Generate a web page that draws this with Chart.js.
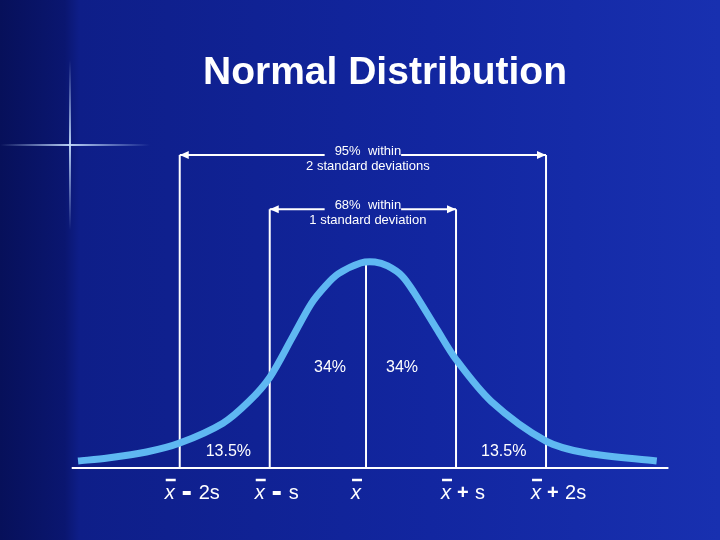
<!DOCTYPE html>
<html><head><meta charset="utf-8">
<script src="https://cdn.jsdelivr.net/npm/chart.js@4/dist/chart.umd.min.js"></script>
<style>
html,body{margin:0;padding:0;width:720px;height:540px;overflow:hidden;}
body{background:linear-gradient(90deg,#07105a 0%,#0a1670 9%,#0e1e88 11%,#1226a0 60%,#1830b0 100%);position:relative;}
#wrap{position:absolute;left:0;top:0;width:720px;height:540px;}
.fl{position:absolute;}
</style></head><body>
<div class="fl" style="left:0;top:144px;width:150px;height:2px;background:linear-gradient(90deg,rgba(120,160,255,0),rgba(200,225,255,0.9) 47%,rgba(120,160,255,0))"></div>
<div class="fl" style="left:69px;top:60px;width:2px;height:170px;background:linear-gradient(180deg,rgba(120,160,255,0),rgba(200,225,255,0.9) 50%,rgba(120,160,255,0))"></div>
<div id="wrap"><canvas id="c" width="720" height="540"></canvas></div>
<script>
// x in units of s from the mean; y relative height (peak = 1)
const curveX = [-3.2,-2.87,-2.44,-2.07,-1.59,-1.3,-1.07,-0.82,-0.61,-0.45,-0.31,-0.06,0.1,0.24,0.4,0.53,0.79,1.0,1.39,2.0,2.45,3.23];
const curveY = [0.0,0.015,0.045,0.09,0.19,0.30,0.42,0.62,0.79,0.88,0.94,0.995,1.0,0.98,0.93,0.85,0.66,0.51,0.30,0.10,0.04,0.0];
const sdLines = [-2.07,-1.07,0,1,2];
const sdLineTops = [1.538,1.265,1.0,1.265,1.538];
const pctLabels = ['13.5%','34%','34%','13.5%'];
const pctX = [-1.53,-0.4,0.4,1.53];
const pctY = [0.045,0.47,0.47,0.045];
const axisLabels = ['2s','s','','s','2s'];
const axisSigns = ['-','-','','+','+'];

const curve = curveX.map((x,i)=>({x, y:curveY[i]}));
const vlines = sdLines.map((x,i)=>({label:'v'+i,data:[{x,y:-0.035},{x,y:sdLineTops[i]}],borderColor:'#ffffff',borderWidth:2,pointRadius:0,fill:false}));

const annot = {
 id:'annot',
 afterDatasetsDraw(ch){
  const c=ch.ctx, xs=ch.scales.x, ys=ch.scales.y;
  c.save();
  c.fillStyle='#fff'; c.strokeStyle='#fff';
  c.lineWidth=2; c.beginPath(); c.moveTo(xs.getPixelForValue(-3.27),ys.getPixelForValue(-0.035)); c.lineTo(xs.getPixelForValue(3.36),ys.getPixelForValue(-0.035)); c.stroke();
  c.font='bold 39px "Liberation Sans", Arial'; c.textAlign='center'; c.textBaseline='middle';
  c.fillText('Normal Distribution',385,73);
  function arrow(a,b,yv,l1,l2){
   const x1=xs.getPixelForValue(a),x2=xs.getPixelForValue(b),y=ys.getPixelForValue(yv),mid=(x1+x2)/2;
   c.font='13px "Liberation Sans", Arial';
   const w=c.measureText(l1).width/2+5;
   c.lineWidth=2;
   c.beginPath();c.moveTo(x1,y);c.lineTo(mid-w,y);c.moveTo(mid+w,y);c.lineTo(x2,y);c.stroke();
   c.beginPath();c.moveTo(x1,y);c.lineTo(x1+9,y-4);c.lineTo(x1+9,y+4);c.closePath();c.fill();
   c.beginPath();c.moveTo(x2,y);c.lineTo(x2-9,y-4);c.lineTo(x2-9,y+4);c.closePath();c.fill();
   c.fillText(l1,mid+5,y-4); c.fillText(l2,mid+5,y+11);
  }
  arrow(sdLines[0],sdLines[4],sdLineTops[0],'95%  within','2 standard deviations');
  arrow(sdLines[1],sdLines[3],sdLineTops[1],'68%  within','1 standard deviation');
  c.font='16px "Liberation Sans", Arial';
  pctLabels.forEach((t,i)=>c.fillText(t,xs.getPixelForValue(pctX[i]),ys.getPixelForValue(pctY[i])));
  c.textAlign='left';
  sdLines.forEach((v,i)=>{
   const px=xs.getPixelForValue(v)-15, py=493;
   c.font='italic 20px "Liberation Sans", Arial';
   c.fillText('x',px,py);
   c.lineWidth=2.5;c.beginPath();c.moveTo(px+1,py-13);c.lineTo(px+11,py-13);c.stroke();
   if(axisLabels[i]){
    c.font='20px "Liberation Sans", Arial';
    if(axisSigns[i]==='-'){c.fillRect(px+18,py-2,8,4);}
    else {c.font='bold 20px "Liberation Sans", Arial';c.fillText('+',px+16,py);c.font='20px "Liberation Sans", Arial';}
    c.fillText(axisLabels[i],px+34,py);
   }
  });
  c.restore();
 }
};

new Chart(document.getElementById('c'),{
 type:'line',
 data:{datasets:[{label:'curve',data:curve,borderColor:'#5fb8f2',borderWidth:7,pointRadius:0,tension:0.3,fill:false,borderCapStyle:'butt'},...vlines]},
 options:{responsive:false,animation:false,layout:{padding:0},
  plugins:{legend:{display:false},tooltip:{enabled:false}},
  scales:{x:{type:'linear',min:-4.067,max:3.933,display:false},y:{min:-0.397,max:2.3166,display:false}}},
 plugins:[annot]
});
</script></body></html>
